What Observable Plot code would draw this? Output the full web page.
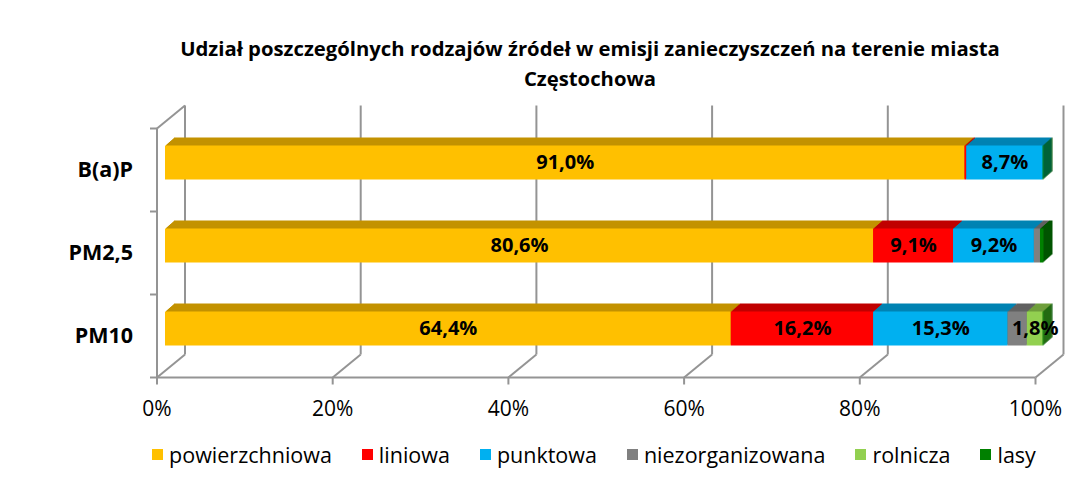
<!DOCTYPE html>
<html><head><meta charset="utf-8">
<script src="https://cdn.jsdelivr.net/npm/d3@7"></script>
<script src="https://cdn.jsdelivr.net/npm/@observablehq/plot@0.6"></script>
<style>
body{margin:0;background:#fff;font-family:"Open Sans",sans-serif;}
#wrap{width:1065px;height:484px;overflow:hidden;background:#fff}
#title{height:100px;box-sizing:border-box;padding-top:33px;padding-left:115px;text-align:center;font-weight:700;font-size:20.3px;line-height:30px;color:#000;white-space:nowrap}
#legend{height:54px;box-sizing:border-box;padding-left:123px;padding-bottom:6px;display:flex;align-items:center;justify-content:center;gap:30px;font-size:21.5px;color:#000}
.item{display:flex;align-items:center}
.sw{width:11px;height:11px;margin-right:6px}
</style></head>
<body><div id="wrap">
<div id="title">Udział poszczególnych rodzajów źródeł w emisji zanieczyszczeń na terenie miasta<br>Częstochowa</div>
<div id="chart"></div>
<div id="legend"></div>
</div>
<script>
const categories = ["B(a)P", "PM2,5", "PM10"];
const series = ["powierzchniowa", "liniowa", "punktowa", "niezorganizowana", "rolnicza", "lasy"];
const powierzchniowa   = [91.0, 80.6, 64.4];
const liniowa          = [0.2, 9.1, 16.2];
const punktowa         = [8.7, 9.2, 15.3];
const niezorganizowana = [0.0, 0.7, 2.2];
const rolnicza         = [0.0, 0.0, 1.8];
const lasy             = [0.1, 0.4, 0.1];
const seriesValues = [powierzchniowa, liniowa, punktowa, niezorganizowana, rolnicza, lasy];
const labelledSeries = ["powierzchniowa", "liniowa", "punktowa", "rolnicza"];
const xTicks = [0, 20, 40, 60, 80, 100];
const xTickLabels = ["0%", "20%", "40%", "60%", "80%", "100%"];

const frontColors = ["#FFC000", "#FF0000", "#00B0F0", "#808080", "#92D050", "#008000"];
const darkColors  = ["#C39200", "#C00000", "#0083B3", "#616161", "#6F9F3C", "#005400"];

// layout
const W = 1065, H = 330, mt = 28, mb = 53, ml = 156.5, mr = 30;
const pxX = (W - ml - mr) / 100, pxY = (H - mt - mb) / 3;
const depthX = 28 / pxX, depthY = 23 / pxY;   // back-wall offset in data units
const half = 17 / pxY;                         // half bar height
const frontDx = 8.5, frontDy = -7;             // bar front face offset
const ext = 9;                                 // bar extrusion layers

const rows = [];
categories.forEach((c, ci) => {
  let acc = 0;
  series.forEach((s, si) => {
    const v = seriesValues[si][ci];
    rows.push({category: c, series: s, si, value: v, x1: acc, x2: acc + v, yc: categories.length - 0.5 - ci});
    acc += v;
  });
});
const fmt = v => d3.format(".1f")(v).replace(".", ",") + "%";
const grid = {stroke: "#949494", strokeWidth: 2};

const marks = [
  Plot.link(xTicks, {x1: d => d + depthX, x2: d => d + depthX, y1: depthY, y2: 3 + depthY, ...grid}),
  Plot.link(xTicks, {x1: d => d, x2: d => d + depthX, y1: 0, y2: depthY, ...grid}),
  Plot.link([0], {x1: 0, x2: depthX, y1: 3, y2: 3 + depthY, ...grid}),
  Plot.link([0], {x1: 0, x2: 0, y1: 0, y2: 3, ...grid}),
  Plot.link([0, 1, 2, 3], {x1: -7 / pxX, x2: 0, y1: d => d, y2: d => d, ...grid}),
  Plot.link([0], {x1: 0, x2: 100, y1: 0, y2: 0, ...grid}),
  Plot.link(xTicks, {x1: d => d, x2: d => d, y1: 0, y2: -7 / pxY, ...grid})
];
for (let i = ext; i >= 1; i--) {
  marks.push(Plot.rect(rows, {
    x1: "x1", x2: "x2", y1: d => d.yc - half, y2: d => d.yc + half,
    fill: d => darkColors[d.si], dx: frontDx + i, dy: frontDy - i * 8 / ext
  }));
}
marks.push(
  Plot.rect(rows, {x1: "x1", x2: "x2", y1: d => d.yc - half, y2: d => d.yc + half,
    fill: d => frontColors[d.si], dx: frontDx, dy: frontDy}),
  Plot.text(rows.filter(d => labelledSeries.includes(d.series) && d.value >= 1), {
    x: d => (d.x1 + d.x2) / 2, y: "yc", text: d => fmt(d.value),
    dx: frontDx, dy: frontDy, fontSize: 20, fontWeight: "bold", fill: "#000"
  }),
  Plot.text(categories, {x: 0, y: (d, i) => categories.length - 0.5 - i, text: d => d,
    textAnchor: "end", dx: -24, fontSize: 21.5, fontWeight: "bold", fill: "#000"}),
  Plot.text(xTicks, {x: d => d, y: 0, text: (d, i) => xTickLabels[i], dy: 31.5, fontSize: 21, fill: "#000"})
);

const chart = Plot.plot({
  width: W, height: H, marginTop: mt, marginBottom: mb, marginLeft: ml, marginRight: mr,
  x: {domain: [0, 100], axis: null},
  y: {domain: [0, 3], axis: null},
  color: {type: "identity"},
  style: {fontFamily: "Open Sans", background: "#fff", overflow: "visible"},
  marks
});
document.getElementById("chart").appendChild(chart);

const legend = document.getElementById("legend");
series.forEach((s, i) => {
  const it = document.createElement("div"); it.className = "item";
  const sw = document.createElement("div"); sw.className = "sw"; sw.style.background = frontColors[i];
  const t = document.createElement("span"); t.textContent = s;
  it.append(sw, t); legend.append(it);
});
</script>
</body></html>
